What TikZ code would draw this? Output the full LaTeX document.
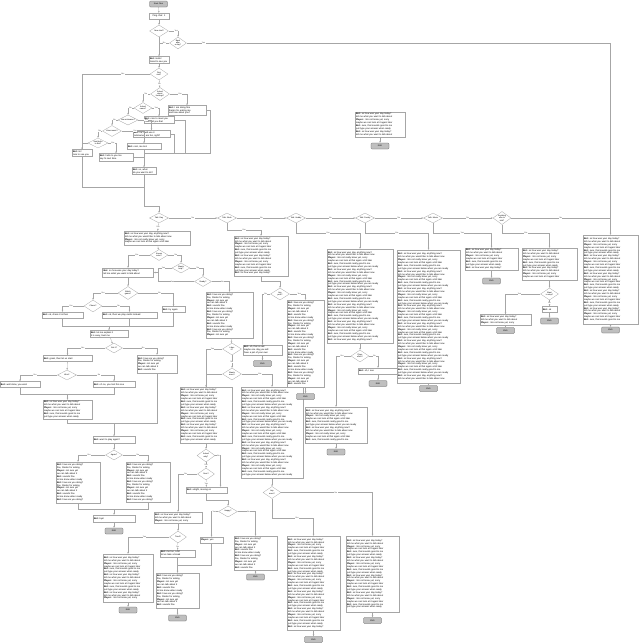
\documentclass[tikz,border=0pt]{standalone}
\usepackage{fontspec}
\setmainfont{Liberation Sans}
\usetikzlibrary{arrows.meta,shapes.geometric,calc}

\newcommand\boxfont{\fontsize{2.3}{2.9}\selectfont}
\newcommand\askfont{\fontsize{2}{2.4}\selectfont}

% chat lines, for narrow, wide and very wide boxes
\newcommand\chat[1]{\foreach \k in {1,...,#1}{%
  \pgfmathtruncatemacro\kk{mod(\k-1,6)}%
  \ifcase\kk
    \textbf{Bot:} how are you doing?\or
    fine, thanks for asking\or
    \textbf{Player:} not sure yet\or
    we can talk about it\or
    \textbf{Bot:} sounds fine\or
    let me know when ready\fi\par}}
\newcommand\chatw[1]{\foreach \k in {1,...,#1}{%
  \pgfmathtruncatemacro\kk{mod(\k-1,6)}%
  \ifcase\kk
    \textbf{Bot:} so how was your day today?\or
    tell me what you want to talk about\or
    \textbf{Player:} I do not know yet, sorry\or
    maybe we can look at it again later\or
    \textbf{Bot:} sure, that sounds good to me\or
    just type your answer when ready\fi\par}}
\newcommand\chatx[1]{\foreach \k in {1,...,#1}{%
  \pgfmathtruncatemacro\kk{mod(\k-1,6)}%
  \ifcase\kk
    \textbf{Bot:} so how was your day, anything new?\or
    tell me what you would like to talk about now\or
    \textbf{Player:} I do not really know yet, sorry\or
    maybe we can look at that again a bit later\or
    \textbf{Bot:} sure, that sounds really good to me\or
    just type your answer below when you are ready\fi\par}}

\begin{document}
\begin{tikzpicture}[x=1pt,y=-1pt,
  say/.style={rectangle,draw=gray!70,fill=white,line width=0.3pt,
              inner sep=1pt,align=left,font=\boxfont},
  ask/.style={diamond,draw=gray!70,fill=white,line width=0.3pt,
              inner sep=0pt,aspect=1.6,align=center,font=\askfont,
              minimum width=19pt,minimum height=12pt},
  endbox/.style={rectangle,rounded corners=1pt,draw=gray!70!black,
                 fill=gray!50,line width=0.3pt,minimum width=18pt,
                 minimum height=6pt,inner sep=0pt,font=\askfont},
  arr/.style={-{Stealth[length=2pt,width=1.6pt]},gray!70,line width=0.3pt},
  link/.style={gray!70,line width=0.3pt},
  lbl/.style={font=\askfont,fill=white,inner sep=0.3pt,text=gray!60!black}
]
  \useasboundingbox (0,0) rectangle (640,643);

  % ---- Opening ---------------------------------------------------
  \node[endbox] (s0) at (158.5,4) {Start Chat};
  \node[say,text width=18pt,minimum height=6pt,align=center] (n1) at (159,16) {Ping chat: 1};
  \node[ask] (d1) at (159,31) {New chat?};
  \node[ask,minimum width=17pt] (d2) at (178,43) {Back\\after\\a day?};
  \node[say,text width=18pt,minimum height=7pt] (n2) at (159,60)
    {\textbf{Bot:} Hello!\\Good to see you};

  \draw[arr] (s0) -- (n1);
  \draw[arr] (n1) -- (d1);
  \draw[arr] (d1.east) -| node[lbl,pos=0.4]{Yes} (d2.north);
  \draw[link] (d2.west) -- node[lbl]{No} (d2.west -| d1.south);
  \draw[arr] (d1) -- (n2);

  % ---- Greeting questions -----------------------------------------
  \node[ask,minimum width=18pt] (d3) at (159,74) {First\\visit?};
  \node[ask,minimum height=13pt] (d4) at (160,94) {Asked\\about\\feelings?};
  \node[ask,minimum width=18pt,minimum height=11pt] (d5) at (143,108) {Asked\\name?};
  \node[ask,minimum width=20pt,minimum height=10pt] (d6) at (128,120) {Has nickname?};
  \node[ask,minimum height=11pt] (d7) at (112,131) {Likes music?};
  \node[ask,minimum width=20pt,minimum height=10pt] (d8) at (98,143) {Said hello\\to Bot?};

  \node[say,text width=36pt,minimum height=10pt] (r1) at (187,110.5)
    {\textbf{Bot:} I am doing fine\\thanks for asking me\\and how about you?};
  \node[say,text width=28pt,minimum height=7pt] (r2) at (159,120)
    {\textbf{Bot:} nice to meet you\\I will call you that};
  \node[say,text width=35pt,minimum height=7pt] (r3) at (151.5,134)
    {\textbf{Bot:} ok, I will use it\\nicknames are fun, right?};
  \node[say,text width=32pt,minimum height=6pt] (r4) at (144,146.5)
    {\textbf{Bot:} cool, me too!};
  \node[say,text width=32pt,minimum height=8pt] (r5) at (116,157.5)
    {\textbf{Bot:} hello to you too\\say hi next time};
  \node[say,text width=18pt,minimum height=7pt] (b0) at (82,153)
    {\textbf{Bot:} Hi!\\nice to see you};
  \node[say,text width=22pt,minimum height=7pt] (m1) at (144,171)
    {\textbf{Bot:} so, what\\do you want to do?};
  \coordinate (mj) at (144,153);
  \coordinate (mk) at (144,187);

  \draw[arr] (n2) -- (d3);
  \draw[arr] (d3.west) -| node[lbl,pos=0.2]{Yes} (b0.north);
  \draw[arr] (d3) -- node[lbl]{No} (d4);
  \draw[arr] (d4.east) -| node[lbl,pos=0.3]{Yes} (r1.north);
  \draw[arr] (d4.west) -| node[lbl,pos=0.3]{No} (d5.north);
  \draw[arr] (d5.east) -| node[lbl,pos=0.3]{Yes} (r2.north);
  \draw[arr] (d5.west) -| node[lbl,pos=0.3]{No} (d6.north);
  \draw[arr] (d6.east) -| node[lbl,pos=0.3]{Yes} (r3.north);
  \draw[arr] (d6.west) -| node[lbl,pos=0.3]{No} (d7.north);
  \draw[arr] (d7.east) -| node[lbl,pos=0.3]{Yes} (r4.north);
  \draw[arr] (d7.west) -| node[lbl,pos=0.3]{No} (d8.north);
  \draw[arr] (d8.east) -| node[lbl,pos=0.3]{Yes} (r5.north);
  \draw[link] (d8.west) -| (b0.north);
  \draw[link] (r1.east) -- ++(4,0) |- (mj);
  \draw[link] (r2.east) -- ++(11,0) |- (mj);
  \draw[link] (r3.east) -- ++(4,0) |- (mj);
  \draw[link] (r5.east) -- (r5.east -| m1.north);
  \draw[arr] (r4) -- (m1);
  \draw[link] (b0.south) |- (mk);

  % ---- Topic row ---------------------------------------------------
  \node[ask,minimum height=10pt] (dm1) at (159,218) {Talk: Day};
  \node[ask,minimum height=10pt] (dm2) at (227,218) {Talk: Work};
  \node[ask,minimum height=10pt] (dm3) at (296,218) {Talk: Hobby};
  \node[ask,minimum height=10pt] (dm4) at (365,218) {Talk: Family};
  \node[ask,minimum height=10pt] (dm5) at (433,218) {Talk: Music};
  \node[ask,minimum width=18pt,minimum height=13pt] (dm6) at (502,218) {Anything\\else to\\talk?};

  \draw[arr] (m1.south) -- ++(0,31) -| (dm1.north);
  \draw[arr] (dm1) -- node[lbl]{No} (dm2);
  \draw[arr] (dm2) -- node[lbl]{No} (dm3);
  \draw[arr] (dm3) -- node[lbl]{No} (dm4);
  \draw[arr] (dm4) -- node[lbl]{No} (dm5);
  \draw[arr] (dm5) -- node[lbl]{No} (dm6);

  % ---- Day branch ----------------------------------------------------
  \node[say,text width=64pt,minimum height=14pt] (A) at (157,238) {\chatx{4}};
  \node[ask,minimum width=18pt,minimum height=11pt] (B) at (159,255) {Knows\\rules?};
  \node[say,text width=49pt,minimum height=9pt] (C) at (128,272.5) {\chatw{2}};
  \node[ask,minimum width=18pt,minimum height=10pt] (D) at (181,268) {Wants\\help?};
  \node[ask,minimum width=17pt,minimum height=10pt] (E) at (203,281.5) {Ready?};
  \coordinate (cj) at (158,272.5);
  \node[ask,minimum width=20pt,minimum height=13pt] (Q) at (128,293) {Which\\game?};
  \node[ask,minimum width=18pt] (R) at (93,306) {Chess?};
  \node[say,text width=21pt,minimum height=6pt] (S) at (173.5,309.5) {\textbf{Bot:} try again};
  \node[say,text width=39pt,minimum height=6pt] (T) at (62.5,315) {\textbf{Bot:} ok, chess it is then};
  \node[say,text width=53pt,minimum height=6pt] (U) at (129.5,315) {\textbf{Bot:} ok, then we play cards instead};
  \coordinate (vj) at (109,326);
  \node[say,text width=36pt,minimum height=7pt] (V) at (109,334)
    {\textbf{Bot:} let me explain it\\it is easy, trust me};
  \node[ask,minimum width=17pt,minimum height=10pt] (W) at (114,348) {Got it?};
  \node[say,text width=47pt,minimum height=6pt] (X) at (67.5,358.5) {\textbf{Bot:} great, then let us start};
  \node[say,text width=38pt,minimum height=18pt] (Y) at (157,364) {\chat{5}};
  \node[ask,minimum height=10pt] (Z) at (67,375) {Won?};
  \node[say,text width=38pt,minimum height=6pt] (AA) at (20,384.5) {\textbf{Bot:} well done, you won!};
  \node[say,text width=40pt,minimum height=6pt] (AB) at (114,384.5) {\textbf{Bot:} oh no, you lost this one};
  \coordinate (acj) at (67.5,394);
  \node[say,text width=47pt,minimum height=19pt] (AC) at (67.5,409.5) {\chatw{6}};
  \coordinate (adj) at (114,423);
  \node[say,text width=40pt,minimum height=7pt] (AD) at (114,440) {\textbf{Bot:} want to play again?};
  \node[ask,minimum width=17pt,minimum height=10pt] (AE) at (114,455) {Again?};
  \node[say,text width=42pt,minimum height=41pt] (AF) at (78,482.5) {\chat{13}};
  \node[say,text width=42pt,minimum height=40pt] (AG) at (148,482) {\chat{13}};
  \coordinate (ahj) at (114,509);
  \node[say,text width=40pt,minimum height=7pt] (AH) at (114,518.5) {\textbf{Bot:} bye!};
  \node[endbox] (AHe) at (114,531) {END};

  \draw[arr] (dm1) -- node[lbl]{Yes} (A);
  \draw[arr] (A) -- (B);
  \draw[arr] (B.west) -| node[lbl,pos=0.3]{Yes} (C.north);
  \draw[arr] (B.east) -| node[lbl,pos=0.3]{No} (D.north);
  \draw[arr] (D.east) -| node[lbl,pos=0.3]{No} (E.north);
  \draw[arr] (D.west) -| node[lbl,pos=0.3]{Yes} (cj) -- (C.east);
  \draw[link] (E.west) -| node[lbl,pos=0.3]{Yes} (cj);
  \draw[arr] (C) -- (Q);
  \draw[arr] (Q.west) -| node[lbl,pos=0.3]{Yes} (R.north);
  \draw[arr] (Q.east) -| node[lbl,pos=0.3]{No} (S.north);
  \draw[arr] (R.west) -| node[lbl,pos=0.3]{Yes} (T.north);
  \draw[arr] (R.east) -| node[lbl,pos=0.3]{No} (U.north);
  \draw[link] (T.south) |- (vj);
  \draw[link] (U.south) |- (vj);
  \draw[link] (S.south) |- (vj);
  \draw[arr] (vj) -- (V);
  \draw[arr] (V) -- (W);
  \draw[arr] (W.west) -| node[lbl,pos=0.3]{Yes} (X.north);
  \draw[arr] (W.east) -| node[lbl,pos=0.3]{No} (Y.north);
  \draw[arr] (X) -- (Z);
  \draw[arr] (Z.west) -| node[lbl,pos=0.3]{Yes} (AA.north);
  \draw[arr] (Z.east) -| node[lbl,pos=0.3]{No} (AB.north);
  \draw[link] (AA.south) |- (acj);
  \draw[link] (AB.south) |- (acj);
  \draw[arr] (acj) -- (AC);
  \draw[link] (AC.south) |- (adj);
  \draw[link] (Y.south) |- (adj);
  \draw[arr] (adj) -- (AD);
  \draw[arr] (AD) -- (AE);
  \draw[arr] (AE.west) -| node[lbl,pos=0.3]{Yes} (AF.north);
  \draw[arr] (AE.east) -| node[lbl,pos=0.3]{No} (AG.north);
  \draw[link] (AF.south) |- (ahj);
  \draw[link] (AG.south) |- (ahj);
  \draw[arr] (ahj) -- (AH);
  \draw[arr] (AH) -- (AHe);

  % ---- Help branch ---------------------------------------------------
  \node[say,text width=45pt,minimum height=46pt] (G) at (229.5,315) {\chat{15}};
  \node[ask] (AI) at (232,349) {Likes\\it?};
  \node[ask] (AJ) at (232,374) {Wants\\more?};
  \node[say,text width=50pt,minimum height=56pt] (AK) at (206,415) {\chatw{18}};
  \node[say,text width=60pt,minimum height=91pt] (AL) at (272,432.5) {\chatx{30}};
  \node[ask,minimum width=18pt,minimum height=13pt] (AM) at (206,455.5) {Asked\\why?};
  \node[ask,minimum width=17pt] (AN) at (206,474) {Sure?};
  \node[say,text width=39pt,minimum height=6pt] (AO) at (206.5,490) {\textbf{Bot:} alright, moving on};
  \node[say,text width=46pt,minimum height=11pt] (AP) at (178,517.5) {\chatw{3}};
  \node[ask,minimum height=11pt] (AQ) at (228,511.5) {Happy?};
  \node[say,text width=21pt,minimum height=6pt] (AR) at (211.5,540) {\textbf{Player:} yes};
  \node[say,text width=41pt,minimum height=34pt] (AS) at (255.5,553) {\chat{11}};
  \node[endbox] (ASe) at (255.5,577) {END};
  \node[ask,minimum width=17pt] (AT) at (178,537) {Tired?};
  \node[say,text width=48pt,minimum height=48pt] (AU) at (128,578) {\chatw{15}};
  \node[endbox] (AUe) at (128,610) {END};
  \node[say,text width=33pt,minimum height=7pt] (AV) at (177.5,553.5)
    {\textbf{Bot:} me too, a bit\\let us take a break};
  \node[say,text width=41pt,minimum height=35pt] (AW) at (177.5,590.5) {\chat{11}};
  \node[endbox] (AWe) at (177.5,618) {END};
  \coordinate (awj) at (177.5,565);
  \node[ask,minimum width=18pt] (AZ) at (272,492.5) {Any\\more?};
  \node[say,text width=51pt,minimum height=94pt] (AX) at (313.5,583) {\chatw{31}};
  \node[endbox] (AXe) at (313.5,639.5) {END};
  \node[say,text width=51pt,minimum height=76pt] (AY) at (372.5,574) {\chatw{24}};
  \node[endbox] (AYe) at (372.5,620.5) {END};

  \draw[arr] (E.east) -| node[lbl,pos=0.3]{No} (G.north);
  \draw[arr] (G) -- (AI);
  \draw[arr] (AI.west) -| node[lbl,pos=0.3]{Yes} (AK.north);
  \draw[arr] (AI) -- node[lbl]{No} (AJ);
  \draw[link] (AJ.west) -| (AK.north);
  \draw[arr] (AJ.east) -| node[lbl,pos=0.3]{Yes} (AL.north);
  \draw[arr] (AK) -- (AM);
  \draw[arr] (AM.east) -| node[lbl,pos=0.3]{No} ([xshift=14pt]AO.north);
  \draw[arr] (AM) -- node[lbl]{Yes} (AN);
  \draw[arr] (AN) -- node[lbl]{Yes} (AO);
  \draw[arr] (AN.west) -| node[lbl,pos=0.3]{No} (AP.north);
  \draw[arr] (AO.south) -- ++(0,7) -| (AQ.north);
  \draw[arr] (AQ.west) -| node[lbl,pos=0.3]{Yes} (AR.north);
  \draw[arr] (AQ.east) -| node[lbl,pos=0.3]{No} (AS.north);
  \draw[arr] (AS) -- (ASe);
  \draw[arr] (AP) -- (AT);
  \draw[arr] (AT.west) -| node[lbl,pos=0.3]{Yes} (AU.north);
  \draw[arr] (AT) -- node[lbl]{No} (AV);
  \draw[arr] (AV) -- (AW);
  \draw[link] (AR.south) |- (awj);
  \draw[arr] (AU) -- (AUe);
  \draw[arr] (AW) -- (AWe);
  \draw[arr] (AL) -- (AZ);
  \draw[arr] (AZ.south) -- ++(0,19) -| node[lbl,pos=0.3]{Yes} (AX.north);
  \draw[arr] (AZ.east) -| node[lbl,pos=0.3]{No} (AY.north);
  \draw[arr] (AX) -- (AXe);
  \draw[arr] (AY) -- (AYe);

  % ---- Work branch ---------------------------------------------------
  \node[say,text width=52pt,minimum height=40pt] (F) at (261,256) {\chatw{13}};
  \node[ask] (H) at (280,294) {Any\\pets?};
  \node[say,text width=37pt,minimum height=10pt] (I) at (262.5,350)
    {\textbf{Bot:} oh, that is sad\\maybe one day you will\\have a pet of your own};
  \node[endbox] (Ie) at (262.5,363.5) {END};
  \node[say,text width=35pt,minimum height=87pt] (J) at (305.5,343.5) {\chat{29}};
  \node[endbox] (Je) at (305.5,396.5) {END};

  \draw[arr] (dm2.south) -- ++(0,7) -| node[lbl,pos=0.25]{Yes} (F.north);
  \draw[arr] (F.south) -- ++(0,5) -| (H.north);
  \draw[arr] (H.west) -| node[lbl,pos=0.3]{No} (I.north);
  \draw[arr] (H.east) -| node[lbl,pos=0.3]{Yes} (J.north);
  \draw[arr] (I) -- (Ie);
  \draw[arr] (J) -- (Je);

  % ---- Hobby and Family branches ---------------------------------------
  \node[say,text width=64pt,minimum height=94pt] (K) at (360,296) {\chatx{31}};
  \node[ask,minimum width=18pt] (L) at (360,356) {Plays\\often?};
  \node[say,text width=60pt,minimum height=36pt] (M) at (336,425) {\chatx{11}};
  \node[endbox] (Me) at (336,452) {END};
  \node[say,text width=38pt,minimum height=6pt] (N) at (378,371) {\textbf{Bot:} oh, I see};
  \node[endbox] (Ne) at (378,383.5) {END};
  \node[say,text width=61pt,minimum height=133pt] (O) at (428.5,316.5) {\chatx{44}};
  \node[endbox] (Oe) at (428.5,388.5) {END};

  \draw[arr] (dm3.south) -- ++(0,10) -| node[lbl,pos=0.25]{Yes} (K.north);
  \draw[arr] (K) -- (L);
  \draw[arr] (L.west) -| node[lbl,pos=0.3]{Yes} (M.north);
  \draw[arr] (L.east) -| node[lbl,pos=0.3]{No} (N.north);
  \draw[arr] (M) -- (Me);
  \draw[arr] (N) -- (Ne);
  \draw[arr] (dm4.south) -- ++(0,10) -| node[lbl,pos=0.25]{Yes} (O.north);
  \draw[arr] (O) -- (Oe);

  % ---- Music and closing branches --------------------------------------
  \node[say,text width=51pt,minimum height=22pt] (P1) at (491.5,259) {\chatw{7}};
  \node[endbox] (P1e) at (491.5,281) {END};
  \node[say,text width=53pt,minimum height=32pt] (P2) at (549.5,264) {\chatw{10}};
  \node[ask,minimum width=18pt] (P2d) at (549.5,294) {Want\\to stop?};
  \node[say,text width=49pt,minimum height=11pt] (P3) at (505.5,320) {\chatw{3}};
  \node[endbox] (P3e) at (505.5,330.5) {END};
  \node[say,text width=13pt,minimum height=6pt] (P4) at (549.5,309.5) {\textbf{Bot:} ok};
  \node[endbox] (P4e) at (549.5,321) {END};
  \node[say,text width=53pt,minimum height=89pt] (RB) at (610.5,279.5) {\chatw{29}};
  \node[endbox] (RBe) at (610.5,330) {END};

  \draw[arr] (dm5.south) -- ++(0,10) -| node[lbl,pos=0.25]{Yes} (P1.north);
  \draw[arr] (P1) -- (P1e);
  \draw[arr] (dm6.south) -- ++(0,8.5) -| node[lbl,pos=0.25]{Yes} (P2.north);
  \draw[arr] (P2) -- (P2d);
  \draw[arr] (P2d.west) -| node[lbl,pos=0.3]{Yes} (P3.north);
  \draw[arr] (P2d) -- node[lbl]{No} (P4);
  \draw[arr] (P3) -- (P3e);
  \draw[arr] (P4) -- (P4e);
  \draw[link] (dm6.east) -- node[lbl]{No} (dm6.east -| RB.north);
  \draw[arr] (d2.east) -| node[lbl,pos=0.02]{Yes} (RB.north);
  \draw[arr] (RB) -- (RBe);

  % ---- Loose note --------------------------------------------------------
  \node[say,text width=48pt,minimum height=25pt] (FL) at (380,124.5) {\chatw{8}};
  \node[endbox] (FLe) at (380,146) {END};
  \draw[arr] (FL) -- (FLe);

\end{tikzpicture}
\end{document}
